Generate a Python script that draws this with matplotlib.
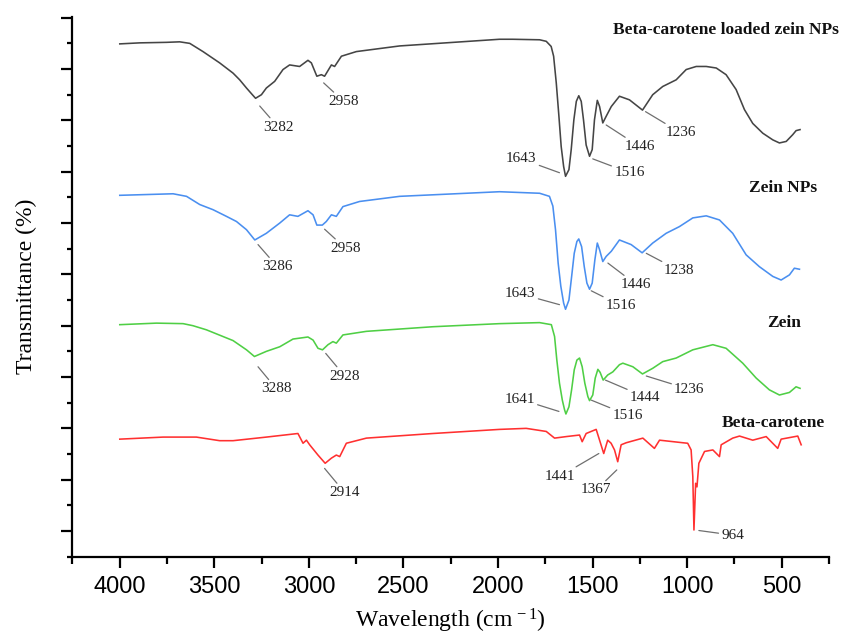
import matplotlib
matplotlib.use("Agg")
import matplotlib.pyplot as plt
from matplotlib.ticker import MultipleLocator, NullFormatter

plt.rcParams['mathtext.fontset'] = 'custom'
plt.rcParams['mathtext.rm'] = 'Liberation Serif'
plt.rcParams['mathtext.it'] = 'Liberation Serif:italic'

# Beta-carotene loaded zein NPs (black)
loaded_wn = [4000, 3894, 3753, 3683, 3630, 3560, 3472, 3401, 3366, 3330, 3299, 3282,
             3251, 3225, 3181, 3137, 3102, 3049, 3005, 2987, 2958, 2934, 2917, 2881,
             2864, 2828, 2749, 2520, 1992, 1923, 1780, 1745, 1719, 1706, 1692, 1678,
             1666, 1653, 1643, 1625, 1613, 1599, 1586, 1573, 1560, 1548, 1534, 1516,
             1502, 1490, 1475, 1463, 1446, 1428, 1401, 1358, 1305, 1236, 1182, 1129,
             1058, 1005, 952, 899, 846, 794, 741, 697, 653, 600, 547, 512, 476, 442,
             424, 403]
loaded_t = [94.9, 95.1, 95.2, 95.3, 95.0, 93.4, 91.2, 89.2, 87.9, 86.3, 85.0, 84.3,
            85.0, 86.3, 87.6, 89.9, 90.8, 90.5, 91.7, 91.2, 88.6, 88.9, 88.6, 90.8,
            90.5, 92.5, 93.4, 94.5, 95.8, 95.8, 95.7, 95.4, 94.4, 92.5, 87.3, 80.8,
            74.9, 71.0, 69.1, 70.4, 74.3, 80.1, 83.7, 84.8, 83.7, 80.1, 75.2, 73.0,
            74.3, 80.1, 83.9, 82.7, 79.5, 80.8, 82.7, 84.7, 84.0, 82.0, 85.0, 86.6,
            87.9, 89.9, 90.5, 90.5, 90.2, 88.9, 86.0, 82.1, 79.4, 77.5, 76.2, 75.6,
            75.9, 77.2, 78.0, 78.2]

# Zein NPs (blue)
np_wn = [4000, 3718, 3647, 3577, 3507, 3436, 3383, 3330, 3286, 3225, 3154, 3102,
         3058, 3005, 2978, 2958, 2929, 2908, 2881, 2855, 2820, 2732, 2520, 1992,
         1780, 1728, 1710, 1696, 1682, 1668, 1653, 1643, 1625, 1611, 1597, 1583,
         1573, 1558, 1544, 1530, 1516, 1502, 1488, 1475, 1463, 1446, 1428, 1401,
         1358, 1296, 1238, 1182, 1111, 1041, 970, 899, 829, 759, 688, 618, 547,
         503, 459, 433, 406]
np_t = [65.4, 65.7, 65.2, 63.6, 62.6, 61.3, 60.3, 58.7, 56.7, 58.0, 60.0, 61.6,
        61.3, 62.4, 61.6, 59.6, 59.6, 60.3, 61.6, 61.3, 63.2, 64.2, 65.2, 66.1,
        65.8, 65.2, 63.3, 58.7, 52.2, 47.7, 44.4, 43.2, 45.0, 49.5, 54.1, 56.4,
        56.9, 55.4, 51.5, 48.3, 47.1, 48.3, 52.8, 56.1, 54.8, 52.5, 53.5, 54.5,
        56.7, 55.8, 54.2, 56.1, 58.0, 59.3, 61.0, 61.4, 60.6, 58.0, 53.8, 51.5,
        49.6, 48.9, 49.9, 51.2, 51.0]

# Zein (green)
zein_wn = [4000, 3806, 3665, 3613, 3542, 3401, 3330, 3288, 3225, 3154, 3084, 3005,
           2978, 2952, 2928, 2899, 2873, 2855, 2820, 2696, 2344, 1992, 1780, 1718,
           1701, 1689, 1675, 1660, 1648, 1641, 1625, 1611, 1597, 1583, 1569, 1555,
           1541, 1525, 1516, 1499, 1486, 1472, 1460, 1444, 1420, 1393, 1358, 1340,
           1287, 1236, 1182, 1129, 1058, 970, 864, 794, 706, 635, 565, 512, 459,
           424, 403]
zein_t = [40.2, 40.5, 40.4, 40.0, 39.2, 37.1, 35.3, 34.0, 35.0, 35.9, 37.4, 37.8,
          37.2, 35.6, 35.3, 36.3, 36.9, 36.6, 38.2, 38.9, 39.8, 40.4, 40.6, 40.2,
          37.9, 33.3, 28.8, 25.5, 23.6, 22.8, 24.2, 27.5, 31.4, 33.3, 33.7, 32.0,
          28.8, 26.2, 25.4, 26.5, 29.8, 31.5, 30.9, 29.4, 30.4, 31.0, 32.4, 32.7,
          32.0, 30.6, 31.7, 33.0, 33.7, 35.3, 36.3, 35.6, 32.7, 29.8, 27.5, 26.5,
          27.0, 28.1, 27.8]

# Beta-carotene (red)
bc_wn = [4000, 3771, 3595, 3472, 3401, 3225, 3058, 3031, 3013, 2996, 2952, 2914,
         2881, 2855, 2837, 2802, 2696, 2344, 1992, 1851, 1745, 1701, 1639, 1569,
         1555, 1534, 1481, 1463, 1441, 1420, 1402, 1384, 1367, 1349, 1322, 1234,
         1173, 1146, 1023, 997, 979, 970, 964, 955, 948, 938, 908, 864, 829, 820,
         759, 723, 653, 582, 521, 503, 415, 397]
bc_t = [17.9, 18.3, 18.3, 17.6, 17.6, 18.3, 19.0, 17.1, 17.7, 16.8, 14.8, 13.2,
        14.2, 14.8, 14.5, 17.1, 18.1, 19.0, 19.8, 20.0, 19.4, 18.1, 18.4, 18.7,
        17.4, 19.0, 19.8, 17.7, 15.1, 17.7, 17.1, 15.8, 13.5, 16.8, 17.2, 18.1,
        16.1, 17.7, 17.2, 17.1, 15.8, 10.6, 0.2, 9.3, 8.6, 13.2, 15.5, 15.8, 14.5,
        16.8, 18.1, 18.5, 17.7, 18.4, 16.1, 17.9, 18.5, 16.8]

series_names = ['Beta-carotene loaded zein NPs', 'Zein NPs', 'Zein', 'Beta-carotene']
series_colors = ['#454545', '#4a8ff0', '#4fcf45', '#ff3030']
name_pos = [(794, 97.7), (491, 66.8), (486, 40.5), (544, 21.1)]

# peak labels: text, point on the leader line near the peak, text centre
peak_labels = [
    ('3282', (3260, 82.8), (3163, 78.7)),
    ('2958', (2922, 87.3), (2816, 83.7)),
    ('1643', (1675, 69.8), (1877, 72.5)),
    ('1516', (1499, 72.5), (1305, 69.8)),
    ('1446', (1428, 79.1), (1252, 74.9)),
    ('1236', (1220, 81.7), (1035, 77.6)),
    ('3286', (3269, 55.8), (3167, 51.5)),
    ('2958', (2917, 58.8), (2807, 55.1)),
    ('1643', (1675, 44.1), (1882, 46.2)),
    ('1516', (1507, 46.8), (1349, 43.9)),
    ('1446', (1419, 52.2), (1269, 48.0)),
    ('1238', (1216, 54.1), (1041, 50.7)),
    ('3288', (3269, 32.0), (3172, 27.7)),
    ('2928', (2911, 34.6), (2811, 30.2)),
    ('1641', (1678, 23.3), (1886, 25.7)),
    ('1516', (1507, 25.5), (1314, 22.6)),
    ('1444', (1432, 29.4), (1222, 26.1)),
    ('1236', (1216, 30.2), (988, 27.6)),
    ('2914', (2917, 12.2), (2811, 7.5)),
    ('1441', (1467, 15.1), (1671, 10.7)),
    ('1367', (1372, 11.9), (1481, 8.0)),
    ('964', (938, 0.1), (759, -0.8)),
]

fig = plt.figure(figsize=(8.44, 6.39), dpi=100)
ax = fig.add_axes([0.0859, 0.1288, 0.8963, 0.8451])

all_wn = [loaded_wn, np_wn, zein_wn, bc_wn]
all_t = [loaded_t, np_t, zein_t, bc_t]
for wn, t, colour in zip(all_wn, all_t, series_colors):
    ax.plot(wn, t, color=colour, lw=1.15, solid_joinstyle='round')

for name, pos in zip(series_names, name_pos):
    ax.text(pos[0], pos[1], name, ha='center', va='center', fontsize=12.5,
            fontweight='bold', family='Liberation Serif', color='#111111')

for label, xy, xytext in peak_labels:
    ax.annotate(label, xy=xy, xytext=xytext, ha='center', va='center',
                fontsize=11, family='Liberation Serif', color='#222222',
                arrowprops=dict(arrowstyle='-', color='#6f6f6f', lw=0.9,
                                shrinkA=0, shrinkB=0))

ax.set_xlim(4250, 250)
ax.set_ylim(-5, 100.2)
ax.xaxis.set_major_locator(MultipleLocator(500))
ax.xaxis.set_minor_locator(MultipleLocator(250))
ax.yaxis.set_major_locator(MultipleLocator(10))
ax.yaxis.set_minor_locator(MultipleLocator(5))
ax.yaxis.set_major_formatter(NullFormatter())

for side in ['top', 'right']:
    ax.spines[side].set_visible(False)
for side in ['left', 'bottom']:
    ax.spines[side].set_linewidth(1.6)

ax.tick_params(axis='x', which='major', length=8, width=1.6, direction='out',
               labelsize=17, pad=6)
ax.tick_params(axis='x', which='minor', length=5, width=1.6, direction='out')
ax.tick_params(axis='y', which='major', length=8, width=1.6, direction='out')
ax.tick_params(axis='y', which='minor', length=3.5, width=1.6, direction='out')
for lab in ax.get_xticklabels():
    lab.set_family('Liberation Sans')

ax.set_xlabel(r'Wavelength (cm$^{\,-1}$)', fontsize=17, family='Liberation Serif',
              labelpad=6)
ax.set_ylabel('Transmittance (%)', fontsize=17, family='Liberation Serif',
              labelpad=14)

fig.savefig('out.png', dpi=100)
